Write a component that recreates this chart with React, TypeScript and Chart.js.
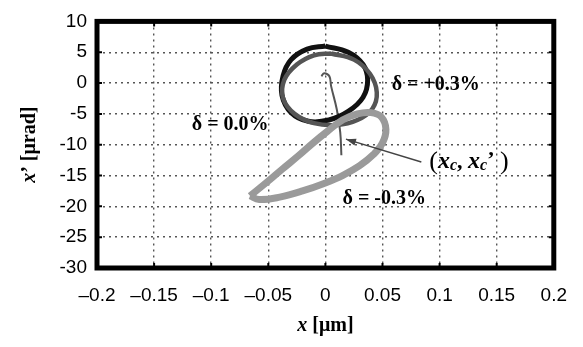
import React, { useEffect, useRef } from 'react';
import { Chart, registerables } from 'chart.js';

Chart.register(...registerables);

const xTickLabels = ['–0.2', '–0.15', '–0.1', '–0.05', '0', '0.05', '0.1', '0.15', '0.2'];
const yTickLabels = ['-30', '-25', '-20', '-15', '-10', '-5', '0', '5', '10'];

// δ = -0.3% loop (light gray)
const loopMinus: [number, number][] = [
  [-0.066, -18.3], [-0.052, -16.2], [-0.038, -14.0], [-0.023, -11.7], [-0.010, -9.6],
  [0.002, -7.8], [0.015, -6.0], [0.028, -5.0], [0.040, -4.8], [0.049, -5.5],
  [0.053, -7.5], [0.050, -9.7], [0.042, -11.6], [0.030, -13.4], [0.015, -15.0],
  [0.000, -16.2], [-0.020, -17.5], [-0.040, -18.5], [-0.058, -18.9], [-0.066, -18.3],
];

// δ = +0.3% loop (dark gray)
const loopPlus: [number, number][] = [
  [0.005, 4.8], [0.025, 3.8], [0.039, 1.5], [0.045, -1.5], [0.041, -4.2],
  [0.028, -6.0], [0.010, -6.8], [-0.010, -6.5], [-0.027, -5.0], [-0.037, -2.5],
  [-0.036, 0.5], [-0.025, 3.0], [-0.010, 4.5], [0.005, 4.8],
];

// δ = 0.0% loop (black)
const loopZero: [number, number][] = [
  [0.000, 6.0], [0.020, 5.0], [0.033, 3.0], [0.037, 0.5], [0.033, -2.3],
  [0.020, -4.6], [0.003, -6.0], [-0.015, -6.2], [-0.030, -4.8], [-0.038, -2.0],
  [-0.037, 1.2], [-0.030, 3.8], [-0.016, 5.5], [0.000, 6.0],
];

// centroid trajectory (x_c, x_c')
const centroidPath: [number, number][] = [
  [0.014, -11.7], [0.013, -8.0], [0.010, -4.3], [0.005, -0.5], [0.0035, 1.1],
  [-0.001, 1.6], [-0.0035, 1.1],
];

const arrowTail: [number, number] = [0.084, -12.8];
const arrowHead: [number, number] = [0.018, -9.1];

const deltaLabels: { text: string; x: number; y: number }[] = [
  { text: 'δ = +0.3%', x: 0.058, y: -0.35 },
  { text: 'δ = 0.0%', x: -0.117, y: -6.7 },
  { text: 'δ = -0.3%', x: 0.015, y: -18.8 },
];
const centroidLabelPos: [number, number] = [0.091, -12.8];

const toPts = (a: [number, number][]) => a.map(([x, y]) => ({ x, y }));

const overlay = {
  id: 'overlay',
  afterDraw(chart: any) {
    const ctx = chart.ctx as CanvasRenderingContext2D;
    const ca = chart.chartArea;
    const xs = chart.scales.x;
    const ys = chart.scales.y;
    ctx.save();

    // inside tick marks
    ctx.strokeStyle = '#000';
    ctx.lineWidth = 2;
    const tl = 5;
    xs.ticks.forEach((t: any) => {
      const px = xs.getPixelForValue(t.value);
      ctx.beginPath();
      ctx.moveTo(px, ca.bottom);
      ctx.lineTo(px, ca.bottom - tl);
      ctx.moveTo(px, ca.top);
      ctx.lineTo(px, ca.top + tl);
      ctx.stroke();
    });
    ys.ticks.forEach((t: any) => {
      const py = ys.getPixelForValue(t.value);
      ctx.beginPath();
      ctx.moveTo(ca.left, py);
      ctx.lineTo(ca.left + tl, py);
      ctx.moveTo(ca.right, py);
      ctx.lineTo(ca.right - tl, py);
      ctx.stroke();
    });

    // thick frame
    ctx.lineWidth = 5;
    ctx.strokeStyle = '#000';
    ctx.strokeRect(ca.left, ca.top, ca.right - ca.left, ca.bottom - ca.top);

    // arrow
    const tx = xs.getPixelForValue(arrowTail[0]);
    const ty = ys.getPixelForValue(arrowTail[1]);
    const hx = xs.getPixelForValue(arrowHead[0]);
    const hy = ys.getPixelForValue(arrowHead[1]);
    ctx.strokeStyle = '#444';
    ctx.fillStyle = '#444';
    ctx.lineWidth = 1.5;
    ctx.beginPath();
    ctx.moveTo(tx, ty);
    ctx.lineTo(hx, hy);
    ctx.stroke();
    const ang = Math.atan2(hy - ty, hx - tx);
    const al = 10, aw = 3.5;
    ctx.beginPath();
    ctx.moveTo(hx, hy);
    ctx.lineTo(hx - al * Math.cos(ang) + aw * Math.sin(ang), hy - al * Math.sin(ang) - aw * Math.cos(ang));
    ctx.lineTo(hx - al * Math.cos(ang) - aw * Math.sin(ang), hy - al * Math.sin(ang) + aw * Math.cos(ang));
    ctx.closePath();
    ctx.fill();

    // delta labels
    ctx.fillStyle = '#000';
    ctx.textBaseline = 'middle';
    ctx.textAlign = 'left';
    ctx.font = 'bold 20px "Liberation Serif"';
    deltaLabels.forEach((l) => {
      ctx.fillText(l.text, xs.getPixelForValue(l.x), ys.getPixelForValue(l.y));
    });

    // (x_c, x_c') label
    let cx = xs.getPixelForValue(centroidLabelPos[0]);
    const cy = ys.getPixelForValue(centroidLabelPos[1]);
    const parts: { t: string; f: string; dy: number }[] = [
      { t: '(', f: '26px "Liberation Serif"', dy: 0 },
      { t: 'x', f: 'italic bold 24px "Liberation Serif"', dy: 0 },
      { t: 'c', f: 'italic bold 16px "Liberation Serif"', dy: 4 },
      { t: ', ', f: 'bold 22px "Liberation Serif"', dy: 0 },
      { t: 'x', f: 'italic bold 24px "Liberation Serif"', dy: 0 },
      { t: 'c', f: 'italic bold 16px "Liberation Serif"', dy: 4 },
      { t: '’ ', f: 'bold 22px "Liberation Serif"', dy: -2 },
      { t: ')', f: '26px "Liberation Serif"', dy: 0 },
    ];
    parts.forEach((p) => {
      ctx.font = p.f;
      ctx.fillText(p.t, cx, cy + p.dy);
      cx += ctx.measureText(p.t).width;
    });

    // x axis title
    ctx.textBaseline = 'middle';
    const xt1 = 'x';
    const xt2 = ' [μm]';
    ctx.font = 'italic bold 20px "Liberation Serif"';
    const w1 = ctx.measureText(xt1).width;
    ctx.font = 'bold 20px "Liberation Serif"';
    const w2 = ctx.measureText(xt2).width;
    let sx = (ca.left + ca.right) / 2 - (w1 + w2) / 2;
    const syt = 326;
    ctx.font = 'italic bold 20px "Liberation Serif"';
    ctx.fillText(xt1, sx, syt);
    ctx.font = 'bold 20px "Liberation Serif"';
    ctx.fillText(xt2, sx + w1, syt);

    // y axis title
    ctx.save();
    ctx.translate(30, (ca.top + ca.bottom) / 2);
    ctx.rotate(-Math.PI / 2);
    const yt1 = 'x';
    const yt2 = '’ [μrad]';
    ctx.font = 'italic bold 20px "Liberation Serif"';
    const v1 = ctx.measureText(yt1).width;
    ctx.font = 'bold 20px "Liberation Serif"';
    const v2 = ctx.measureText(yt2).width;
    sx = -(v1 + v2) / 2;
    ctx.font = 'italic bold 20px "Liberation Serif"';
    ctx.fillText(yt1, sx, 0);
    ctx.font = 'bold 20px "Liberation Serif"';
    ctx.fillText(yt2, sx + v1, 0);
    ctx.restore();

    ctx.restore();
  },
};

export default function App() {
  const ref = useRef<HTMLCanvasElement | null>(null);
  useEffect(() => {
    if (!ref.current) return;
    const lineDs = (data: [number, number][], color: string, width: number) => ({
      data: toPts(data),
      showLine: true,
      borderColor: color,
      borderWidth: width,
      pointRadius: 0,
      tension: 0.4,
      fill: false,
    });
    const chart = new Chart(ref.current, {
      type: 'scatter',
      data: {
        datasets: [
          lineDs(loopMinus, '#9a9a9a', 7),
          lineDs(loopPlus, '#555555', 4.5),
          lineDs(loopZero, '#111111', 5),
          lineDs(centroidPath, '#555555', 2),
        ],
      },
      options: {
        animation: false,
        responsive: true,
        maintainAspectRatio: false,
        layout: { padding: { left: 0, right: 28, top: 17, bottom: 0 } },
        plugins: { legend: { display: false }, tooltip: { enabled: false } },
        scales: {
          x: {
            type: 'linear',
            min: -0.2,
            max: 0.2,
            afterFit: (s: any) => { s.height = 79; },
            ticks: {
              stepSize: 0.05,
              color: '#000',
              padding: 16,
              maxRotation: 0,
              autoSkip: false,
              font: { family: '"Liberation Sans"', size: 19 },
              callback: (_v: any, i: number) => xTickLabels[i],
            },
            grid: { color: '#555', lineWidth: 1.4, drawTicks: false, tickLength: 0 },
            border: { display: false, dash: [2, 4] },
          },
          y: {
            type: 'linear',
            min: -30,
            max: 10,
            afterFit: (s: any) => { s.width = 97; },
            ticks: {
              stepSize: 5,
              color: '#000',
              padding: 10,
              autoSkip: false,
              font: { family: '"Liberation Sans"', size: 19 },
              callback: (_v: any, i: number) => yTickLabels[i],
            },
            grid: { color: '#555', lineWidth: 1.4, drawTicks: false, tickLength: 0 },
            border: { display: false, dash: [2, 4] },
          },
        },
      },
      plugins: [overlay],
    });
    return () => chart.destroy();
  }, []);
  return (
    <div style={{ position: 'absolute', left: 0, top: 0, width: 583, height: 347, background: '#fff' }}>
      <canvas ref={ref} />
    </div>
  );
}
